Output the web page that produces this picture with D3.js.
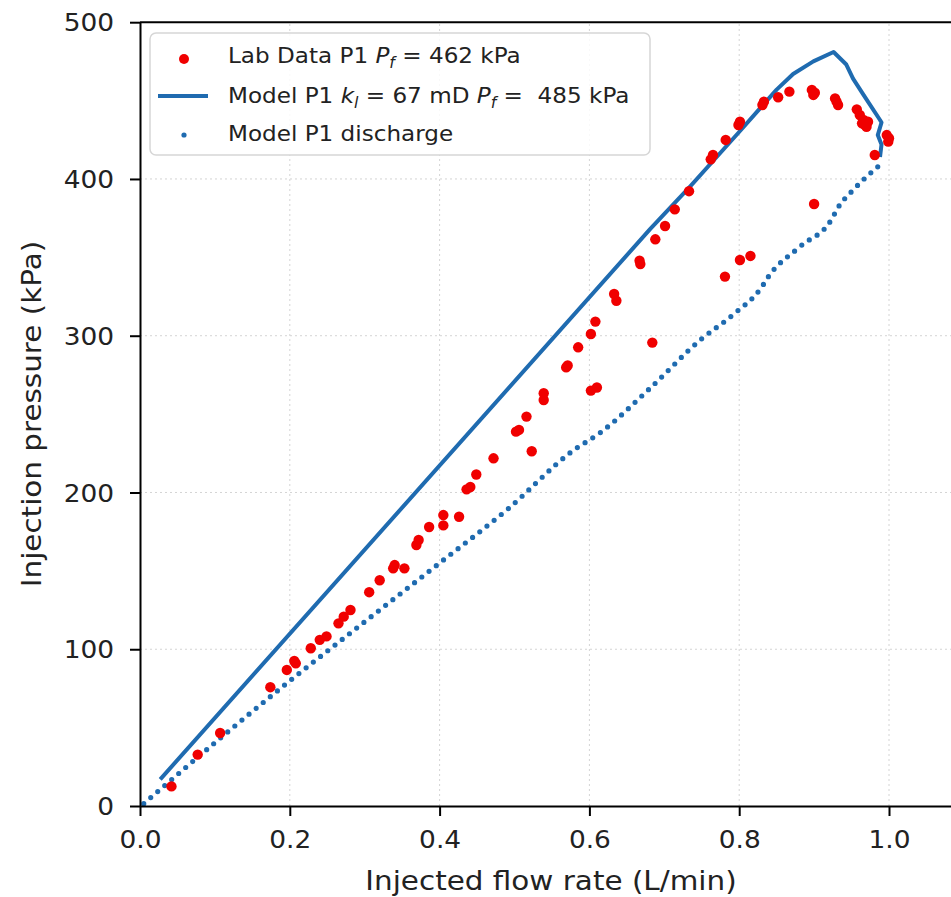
<!DOCTYPE html>
<html>
<head>
<meta charset="utf-8">
<script src="https://cdn.jsdelivr.net/npm/d3@7"></script>
<style>
  html, body { margin: 0; padding: 0; background: #fff; }
  svg { display: block; }
  text { font-family: "DejaVu Sans", sans-serif; fill: #222; white-space: pre; }
</style>
</head>
<body>
<svg id="chart" width="951" height="897"></svg>
<script>
// ---- Data ----
const labFlow = [0.042,0.077,0.107,0.174,0.196,0.206,0.208,0.228,0.240,0.249,0.265,0.272,0.281,0.306,0.320,0.338,0.340,0.353,0.369,0.372,0.386,0.405,0.405,0.426,0.436,0.441,0.449,0.472,0.502,0.506,0.516,0.523,0.539,0.539,0.569,0.571,0.585,0.602,0.608,0.602,0.610,0.633,0.636,0.667,0.668,0.684,0.688,0.701,0.714,0.733,0.762,0.765,0.782,0.799,0.801,0.781,0.801,0.815,0.831,0.833,0.852,0.867,0.897,0.899,0.901,0.900,0.928,0.932,0.930,0.957,0.961,0.966,0.968,0.964,0.972,0.970,0.981,0.997,0.999,1.000];
const labPressure = [12.5,32.8,46.6,75.8,86.8,92.5,91.0,100.6,106.0,108.2,116.5,120.8,125.0,136.4,144.0,151.6,153.7,151.6,166.5,169.7,178.0,185.6,179.0,184.5,202.0,203.5,211.5,221.8,238.8,239.9,248.4,226.3,263.3,259.0,279.8,281.0,292.6,301.1,309.0,265.0,267.0,326.6,322.3,347.8,345.7,295.6,361.5,370.0,380.6,392.2,412.5,415.3,424.9,434.4,436.5,337.7,348.3,350.9,447.2,449.3,452.1,455.7,456.8,453.6,455.0,384.0,451.4,447.2,449.3,444.4,440.8,437.6,434.4,435.5,436.5,433.3,415.3,428.0,423.8,426.0];

const modelFlow = [0.027,0.681,0.734,0.799,0.850,0.872,0.899,0.926,0.943,0.952,0.966,0.988,0.990,0.985,0.990,0.988];
const modelPressure = [17,368,395,429.5,457,467,475,481,473,464,453.6,437.6,436,428,422,414];

const dischargeFlow = [0.005,0.107,0.196,0.289,0.400,0.490,0.579,0.614,0.681,0.748,0.792,0.830,0.839,0.881,0.923,0.932,0.952,0.988];
const dischargePressure = [1.5,43.2,78.3,113.4,155,189,227,238,266.5,297.3,313.5,331,337.7,356.8,374,381.8,392.9,409];

const xTicks = [0.0,0.2,0.4,0.6,0.8,1.0];
const yTicks = [0,100,200,300,400,500];
const xLabel = "Injected flow rate (L/min)";
const yLabel = "Injection pressure (kPa)";

// ---- Layout ----
const svg = d3.select("#chart");
const x = d3.scaleLinear().domain([0, 1.1]).range([140, 140 + 1.1 * 749]);
const y = d3.scaleLinear().domain([0, 500]).range([806, 22.2]);
const blue = "#1f6bb0";
const grid = svg.append("g");

// grid
grid.selectAll("line.gx").data(xTicks.filter(d => d > 0)).join("line")
  .attr("x1", d => x(d)).attr("x2", d => x(d))
  .attr("y1", y(0)).attr("y2", y(500))
  .attr("stroke", "#d4d4d4").attr("stroke-width", 1).attr("stroke-dasharray", "2,3");
grid.selectAll("line.gy").data(yTicks.filter(d => d > 0 && d < 500)).join("line")
  .attr("x1", x(0)).attr("x2", x(1.1))
  .attr("y1", d => y(d)).attr("y2", d => y(d))
  .attr("stroke", "#d4d4d4").attr("stroke-width", 1).attr("stroke-dasharray", "2,3");

// discharge (dotted)
const dischargeData = dischargeFlow.map((f, i) => [f, dischargePressure[i]]);
svg.append("path")
  .attr("d", d3.line().x(d => x(d[0])).y(d => y(d[1])).curve(d3.curveMonotoneX)(dischargeData))
  .attr("fill", "none").attr("stroke", blue).attr("stroke-width", 5.2)
  .attr("stroke-linecap", "round").attr("stroke-dasharray", "0 9.2");

// model line
const modelData = modelFlow.map((f, i) => [f, modelPressure[i]]);
svg.append("path")
  .attr("d", d3.line().x(d => x(d[0])).y(d => y(d[1]))(modelData))
  .attr("fill", "none").attr("stroke", blue).attr("stroke-width", 4)
  .attr("stroke-linejoin", "round").attr("stroke-linecap", "butt");

// lab data
svg.append("g").selectAll("circle").data(labFlow.map((f, i) => [f, labPressure[i]])).join("circle")
  .attr("cx", d => x(d[0])).attr("cy", d => y(d[1])).attr("r", 5.2)
  .attr("fill", "#f00000");

// axes
const xAxis = svg.append("g").attr("transform", `translate(0,${y(0)})`)
  .call(d3.axisBottom(x).tickValues(xTicks).tickFormat(d3.format(".1f")).tickSize(10).tickSizeOuter(0));
const yAxis = svg.append("g").attr("transform", `translate(${x(0)},0)`)
  .call(d3.axisLeft(y).tickValues(yTicks).tickSize(10).tickSizeOuter(0));
[xAxis, yAxis].forEach(a => {
  a.select(".domain").attr("stroke", "#000").attr("stroke-width", 2);
  a.selectAll(".tick line").attr("stroke", "#000").attr("stroke-width", 2);
  a.selectAll(".tick text").attr("font-size", 24).attr("font-family", "DejaVu Sans").attr("fill", "#222");
});
xAxis.selectAll(".tick text").attr("y", 42).attr("dy", null).attr("transform", "scale(1.1,1)");
yAxis.selectAll(".tick text").attr("x", -26 / 1.1).attr("dy", "0.36em").attr("transform", "scale(1.1,1)");
// top and right spines
svg.append("line").attr("x1", x(0)).attr("x2", x(1.1)).attr("y1", y(500)).attr("y2", y(500))
  .attr("stroke", "#000").attr("stroke-width", 2);
svg.append("line").attr("x1", x(1.1)).attr("x2", x(1.1)).attr("y1", y(500)).attr("y2", y(0))
  .attr("stroke", "#000").attr("stroke-width", 2);

// axis labels
svg.append("text").attr("text-anchor", "middle").attr("font-size", 27)
  .attr("transform", `translate(551,890) scale(1.09,1)`).text(xLabel);
svg.append("text").attr("text-anchor", "middle").attr("font-size", 27)
  .attr("transform", `translate(41,414) rotate(-90) scale(1.09,1)`).text(yLabel);

// legend
const lg = svg.append("g");
lg.append("rect").attr("x", 150).attr("y", 33).attr("width", 500).attr("height", 122)
  .attr("rx", 6).attr("fill", "#fff").attr("fill-opacity", 0.85)
  .attr("stroke", "#d6d6d6").attr("stroke-width", 1.5);
lg.append("circle").attr("cx", 184).attr("cy", 59).attr("r", 5).attr("fill", "#f00000");
lg.append("line").attr("x1", 158).attr("x2", 208).attr("y1", 96).attr("y2", 96)
  .attr("stroke", blue).attr("stroke-width", 4);
lg.append("circle").attr("cx", 184).attr("cy", 135).attr("r", 2.6).attr("fill", blue);

function legendText(yb, parts) {
  const t = lg.append("text").attr("font-size", 22)
    .attr("transform", `translate(228,${yb}) scale(1.05,1)`);
  parts.forEach(p => {
    const s = t.append("tspan").text(p.t);
    if (p.i) s.attr("font-style", "italic");
    if (p.sub) s.attr("font-size", 15).attr("dy", 5);
    if (p.up) s.attr("dy", -5);
  });
}
legendText(63, [{t: "Lab Data P1 "}, {t: "P", i: true}, {t: "f", i: true, sub: true}, {t: " = 462 kPa", up: true}]);
legendText(103, [{t: "Model P1 "}, {t: "k", i: true}, {t: "l", i: true, sub: true}, {t: " = 67 mD ", up: true}, {t: "P", i: true}, {t: "f", i: true, sub: true}, {t: " =  485 kPa", up: true}]);
legendText(141, [{t: "Model P1 discharge"}]);
</script>
</body>
</html>
